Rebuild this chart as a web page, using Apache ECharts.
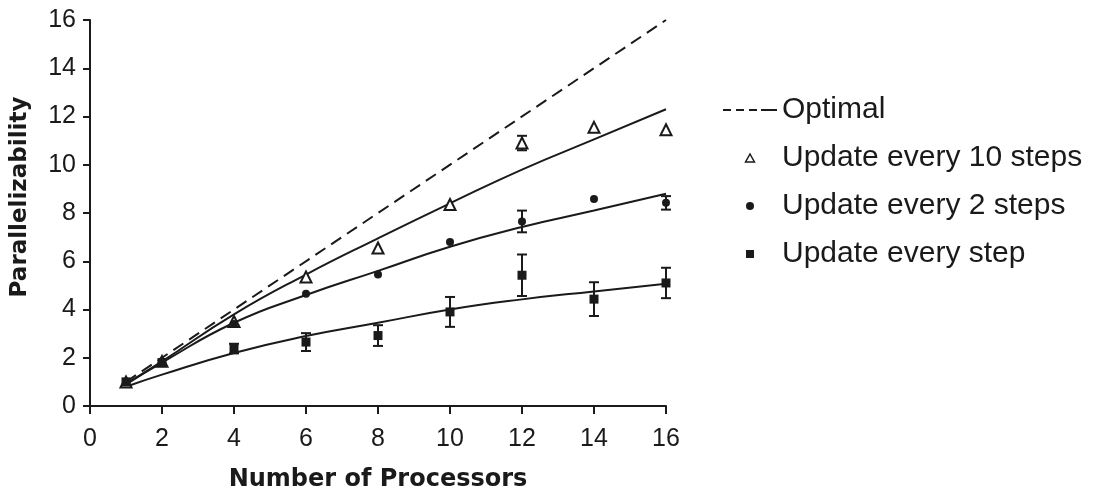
<!DOCTYPE html>
<html>
<head>
<meta charset="utf-8">
<script src="https://cdn.jsdelivr.net/npm/echarts@6/dist/echarts.min.js"></script>
<style>
  html, body { margin: 0; padding: 0; background: #fff; }
  #chart { width: 1096px; height: 497px; }
</style>
</head>
<body>
<div id="chart"></div>
<script>
// number of processors
var procs = [1, 2, 4, 6, 8, 10, 12, 14, 16];
var optimalX = [1, 16];

// measured parallelizability (mean) and error
var tenSteps = [1.0, 1.85, 3.5, 5.35, 6.55, 8.35, 10.9, 11.55, 11.45];
var tenErr = [0, 0, 0, 0, 0, 0, 0.3, 0, 0];
var twoSteps = [1.0, 1.85, 3.4, 4.65, 5.45, 6.8, 7.65, 8.58, 8.42];
var twoErr = [0, 0, 0, 0, 0, 0, 0.45, 0, 0.28];
var everyStep = [1.0, 1.8, 2.38, 2.65, 2.92, 3.9, 5.42, 4.43, 5.1];
var everyErr = [0, 0, 0.2, 0.37, 0.43, 0.62, 0.86, 0.7, 0.63];

// fitted curves
var tenFit = [0.92, 1.85, 3.8, 5.45, 6.95, 8.4, 9.8, 11.05, 12.3];
var twoFit = [0.9, 1.8, 3.45, 4.6, 5.6, 6.6, 7.42, 8.1, 8.8];
var everyFit = [0.8, 1.3, 2.2, 2.9, 3.45, 4.0, 4.42, 4.75, 5.07];

var ink = '#1a1a1a';
var font = '"Liberation Sans", Arial, sans-serif';
var titleFont = '"DejaVu Sans", sans-serif';

function pairs(xs, ys) {
  return xs.map(function (x, i) { return [x, ys[i]]; });
}

function errData(ys, errs) {
  var out = [];
  procs.forEach(function (x, i) {
    if (errs[i] > 0) out.push([x, ys[i], errs[i]]);
  });
  return out;
}

function errorBars(params, api) {
  var x = api.value(0), y = api.value(1), e = api.value(2);
  var hi = api.coord([x, y + e]);
  var lo = api.coord([x, y - e]);
  var hw = 5;
  var style = { stroke: ink, lineWidth: 2 };
  return {
    type: 'group',
    children: [
      { type: 'line', shape: { x1: hi[0], y1: hi[1], x2: lo[0], y2: lo[1] }, style: style },
      { type: 'line', shape: { x1: hi[0] - hw, y1: hi[1], x2: hi[0] + hw, y2: hi[1] }, style: style },
      { type: 'line', shape: { x1: lo[0] - hw, y1: lo[1], x2: lo[0] + hw, y2: lo[1] }, style: style }
    ]
  };
}

function fitLine(ys) {
  return {
    type: 'line',
    data: pairs(procs, ys),
    smooth: true,
    symbol: 'none',
    silent: true,
    lineStyle: { color: ink, width: 2 },
    z: 2
  };
}

function errSeries(ys, errs) {
  return {
    type: 'custom',
    data: errData(ys, errs),
    renderItem: errorBars,
    silent: true,
    z: 3
  };
}

var chart = echarts.init(document.getElementById('chart'));
chart.setOption({
  backgroundColor: '#fff',
  animation: false,
  grid: { left: 90, right: 430, top: 20, bottom: 90 },
  legend: {
    orient: 'vertical',
    left: 718,
    top: 90,
    itemWidth: 54,
    itemHeight: 8,
    itemGap: 18,
    symbolKeepAspect: true,
    selectedMode: false,
    textStyle: { fontFamily: font, fontSize: 30, color: ink },
    data: [
      {
        name: 'Optimal',
        icon: 'path://M0,0h8v2h-8z M13,0h8v2h-8z M26,0h8v2h-8z M38,0h16v2h-16z',
        itemStyle: { color: ink, borderWidth: 0 }
      },
      {
        name: 'Update every 10 steps',
        icon: 'path://M5,0L10,9L0,9Z',
        itemStyle: { color: '#fff', borderColor: ink, borderWidth: 1.5 }
      },
      {
        name: 'Update every 2 steps',
        icon: 'path://M5,0A5,5,0,1,1,5,10A5,5,0,1,1,5,0Z',
        itemStyle: { color: ink, borderWidth: 0 }
      },
      {
        name: 'Update every step',
        icon: 'path://M0,0h10v10h-10z',
        itemStyle: { color: ink, borderWidth: 0 }
      }
    ]
  },
  xAxis: {
    type: 'value',
    min: 0,
    max: 16,
    interval: 2,
    name: 'Number of Processors',
    nameLocation: 'middle',
    nameGap: 62,
    nameTextStyle: { fontFamily: titleFont, fontSize: 24, fontWeight: 'bold', color: ink },
    axisLine: { lineStyle: { color: ink, width: 2 } },
    axisTick: { length: 8, lineStyle: { color: ink, width: 2 } },
    axisLabel: { fontFamily: font, fontSize: 25, color: ink, margin: 21 },
    splitLine: { show: false }
  },
  yAxis: {
    type: 'value',
    min: 0,
    max: 16,
    interval: 2,
    name: 'Parallelizability',
    nameLocation: 'middle',
    nameGap: 58,
    nameTextStyle: {
      fontFamily: titleFont, fontSize: 23, fontWeight: 'bold', color: ink,
      padding: [0, 0, 0, 32]
    },
    axisLine: { lineStyle: { color: ink, width: 2 } },
    axisTick: { length: 7, lineStyle: { color: ink, width: 2 } },
    axisLabel: { fontFamily: font, fontSize: 25, color: ink, margin: 14 },
    splitLine: { show: false }
  },
  series: [
    {
      name: 'Optimal',
      type: 'line',
      data: pairs(optimalX, optimalX),
      symbol: 'none',
      silent: true,
      itemStyle: { color: ink },
      lineStyle: { color: ink, width: 2, type: [12, 7] },
      z: 1
    },
    fitLine(tenFit),
    fitLine(twoFit),
    fitLine(everyFit),
    errSeries(tenSteps, tenErr),
    errSeries(twoSteps, twoErr),
    errSeries(everyStep, everyErr),
    {
      name: 'Update every 10 steps',
      type: 'scatter',
      data: pairs(procs, tenSteps),
      symbol: 'triangle',
      symbolSize: 11,
      itemStyle: { color: '#fff', borderColor: ink, borderWidth: 2, opacity: 1 },
      z: 4
    },
    {
      name: 'Update every 2 steps',
      type: 'scatter',
      data: pairs(procs, twoSteps),
      symbol: 'circle',
      symbolSize: 8,
      itemStyle: { color: ink, opacity: 1 },
      z: 4
    },
    {
      name: 'Update every step',
      type: 'scatter',
      data: pairs(procs, everyStep),
      symbol: 'rect',
      symbolSize: 9,
      itemStyle: { color: ink, opacity: 1 },
      z: 4
    }
  ]
});
</script>
</body>
</html>
